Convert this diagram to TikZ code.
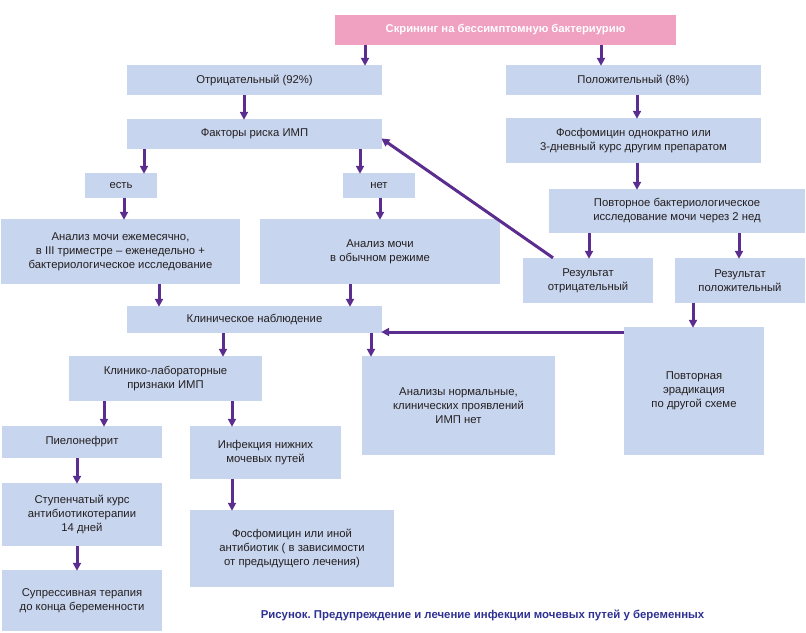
\documentclass[tikz,border=0pt]{standalone}
\usepackage{fontspec}
\setmainfont{Liberation Sans}
\usetikzlibrary{arrows.meta}
\frenchspacing
\definecolor{boxblue}{HTML}{C8D5EE}
\definecolor{pinkbox}{HTML}{F0A0C0}
\definecolor{arrowpurple}{HTML}{5B2D8E}
\definecolor{captionblue}{HTML}{2E3192}
\definecolor{txtgray}{HTML}{231F20}
\newcommand\bx[7][box]{%
  \pgfmathsetmacro\bxw{#5-#3}\pgfmathsetmacro\bxh{#6-#4}%
  \pgfmathsetmacro\bxcx{(#3+#5)/2}\pgfmathsetmacro\bxcy{(#4+#6)/2}%
  \node[#1, minimum width=\bxw pt, minimum height=\bxh pt] (#2) at (\bxcx,\bxcy) {#7};}
\newcommand\varrow[3]{\draw[arr] (#1.south -| #3,0) -- (#2.north -| #3,0);}
\begin{document}
\begin{tikzpicture}[x=1pt,y=-1pt,
  box/.style={fill=boxblue, inner sep=0pt, align=center, text=txtgray,
    font=\fontsize{11.3}{14}\selectfont},
  pinkstyle/.style={box, fill=pinkbox, text=white, font=\fontsize{11.25}{14}\selectfont\bfseries},
  arr/.style={draw=arrowpurple, line width=3pt, -{Triangle[length=8pt,width=8pt]}, shorten >=-1pt}]
\useasboundingbox (0,0) rectangle (806,632);
\bx[pinkstyle]{scr}{335}{15}{676}{45}{Скрининг на бессимптомную бактериурию}
\bx{otr}{127}{65}{382}{95}{Отрицательный (92\%)}
\bx{pol}{506}{65}{761}{95}{Положительный (8\%)}
\bx{fakt}{127}{119}{382}{149}{Факторы риска ИМП}
\bx{est}{85}{173}{157}{198}{есть}
\bx{net}{343}{173}{415}{198}{нет}
\bx{anez}{1}{219}{240}{284}{Анализ мочи ежемесячно,\\в III триместре -- еженедельно +\\бактериологическое исследование}
\bx{anob}{260}{219}{500}{284}{Анализ мочи\\в обычном режиме}
\bx{fosf}{506}{118}{761}{163}{Фосфомицин однократно или\\3-дневный курс другим препаратом}
\bx{povt}{549}{189}{805}{233}{Повторное бактериологическое\\исследование мочи через 2 нед}
\bx{rezo}{523}{258}{653}{303}{Результат\\отрицательный}
\bx{rezp}{675}{258}{805}{303}{Результат\\положительный}
\bx{klin}{127}{306}{382}{333}{Клиническое наблюдение}
\bx{kllab}{69}{356}{262}{401}{Клинико-лабораторные\\признаки ИМП}
\bx{anorm}{362}{356}{555}{455}{Анализы нормальные,\\клинических проявлений\\ИМП нет}
\bx{erad}{624}{327}{764}{455}{Повторная\\эрадикация\\по другой схеме}
\bx{piel}{2}{426}{162}{458}{Пиелонефрит}
\bx{infn}{190}{426}{341}{479}{Инфекция нижних\\мочевых путей}
\bx{stup}{2}{483}{162}{546}{Ступенчатый курс\\антибиотикотерапии\\14 дней}
\bx{supr}{2}{570}{162}{631}{Супрессивная терапия\\до конца беременности}
\bx{fosi}{190}{510}{394}{587}{Фосфомицин или иной\\антибиотик ( в зависимости\\от предыдущего лечения)}
\node[text=captionblue, font=\fontsize{11.4}{13}\selectfont\bfseries, inner sep=0pt] (cap) at (482.5,615) {Рисунок. Предупреждение и лечение инфекции мочевых путей у беременных};
\varrow{scr}{otr}{365}
\varrow{scr}{pol}{601}
\varrow{otr}{fakt}{244}
\varrow{pol}{fosf}{637}
\varrow{fosf}{povt}{637}
\varrow{povt}{rezo}{589}
\varrow{povt}{rezp}{739}
\varrow{fakt}{est}{144}
\varrow{fakt}{net}{360}
\varrow{est}{anez}{124}
\varrow{net}{anob}{380}
\varrow{anez}{klin}{159}
\varrow{anob}{klin}{350}
\varrow{rezp}{erad}{693}
\varrow{klin}{kllab}{223}
\varrow{klin}{anorm}{371}
\varrow{kllab}{piel}{104}
\varrow{kllab}{infn}{232}
\varrow{piel}{stup}{77}
\varrow{stup}{supr}{77}
\varrow{infn}{fosi}{232}
\draw[arr] (rezo.north -| 553,0) -- ([yshift=-5pt]fakt.east);
\draw[arr] (erad.west |- 0,332) -- (klin.east |- 0,332);
\end{tikzpicture}
\end{document}
